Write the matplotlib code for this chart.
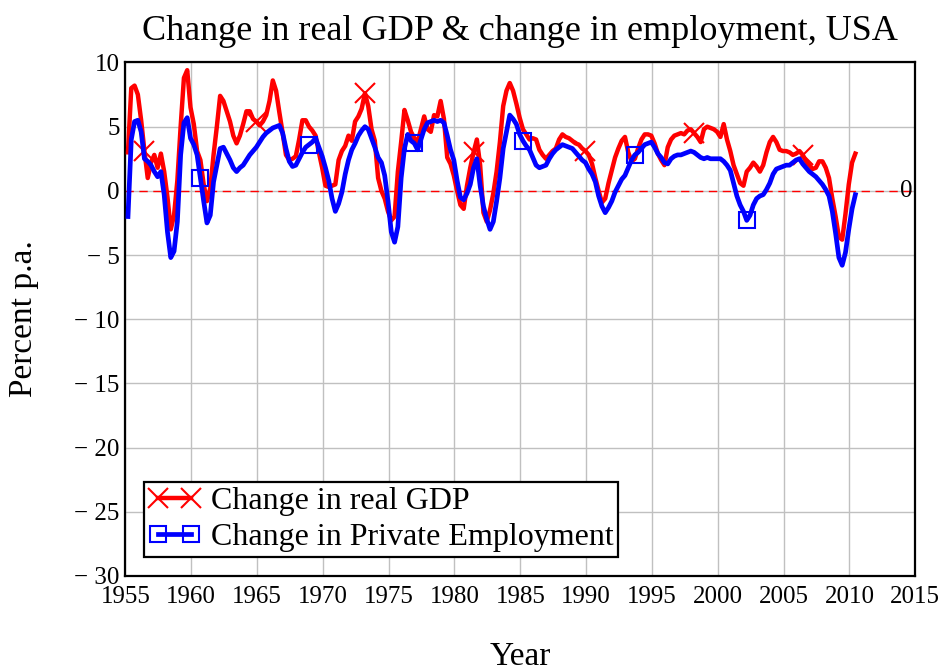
import numpy as np
import matplotlib.pyplot as plt

# quarterly readings, first quarter ~1955.2
start_year = 1955.2
gdp = [3.0, 8.0, 8.2,
       7.5, 5.5, 3.1, 1.0,
       2.2, 2.8, 1.8, 2.9,
       1.5, -0.5, -3.0, -1.9,
       0.8, 5.0, 8.8, 9.4,
       6.5, 5.2, 3.1, 2.4,
       0.5, -0.8, 0.2, 2.8,
       5.0, 7.4, 7.0, 6.2,
       5.4, 4.3, 3.7, 4.3,
       5.2, 6.2, 6.2, 5.6,
       5.4, 5.1, 5.4, 5.9,
       7.0, 8.6, 7.8, 6.1,
       4.5, 2.8, 2.4, 2.5,
       2.7, 4.0, 5.5, 5.5,
       5.0, 4.7, 4.3, 3.0,
       1.8, 0.4, 0.3, 0.4,
       0.5, 2.4, 3.1, 3.5,
       4.3, 3.9, 5.4, 5.8,
       6.4, 7.6, 6.6, 4.8,
       3.9, 1.0, 0.0, -0.6,
       -1.6, -2.3, -2.0, 1.5,
       3.8, 6.3, 5.5, 4.6,
       4.1, 3.8, 4.8, 5.8,
       4.8, 4.6, 5.9, 5.8,
       7.0, 5.6, 2.6, 2.1,
       1.2, 0.0, -1.1, -1.4,
       0.4, 1.8, 3.0, 4.0,
       2.0, -1.7, -2.4, -1.5,
       -0.2, 1.5, 3.8, 6.6,
       7.8, 8.4, 7.8, 6.8,
       5.7, 4.8, 4.4, 4.0,
       4.1, 4.0, 3.2, 2.8,
       2.5, 2.8, 3.1, 3.3,
       4.0, 4.4, 4.2, 4.1,
       3.9, 3.7, 3.6, 3.3,
       3.1, 2.8, 2.1, 1.0,
       0.0, -0.9, -0.6, 0.6,
       1.6, 2.6, 3.3, 3.9,
       4.2, 3.0, 2.3, 2.5,
       3.3, 4.0, 4.4, 4.4,
       4.3, 3.7, 2.9, 2.4,
       2.0, 3.4, 4.0, 4.3,
       4.4, 4.5, 4.4, 4.7,
       4.8, 4.5, 4.2, 3.8,
       4.8, 5.0, 4.9, 4.8,
       4.6, 4.2, 5.2, 4.0,
       3.1, 2.0, 1.3, 0.6,
       0.4, 1.5, 1.8, 2.2,
       1.9, 1.5, 2.0, 3.0,
       3.8, 4.2, 3.8, 3.2,
       3.1, 3.1, 3.0, 2.8,
       2.9, 3.1, 2.8, 2.3,
       2.0, 1.7, 1.8, 2.3,
       2.3, 1.8, 1.0, -0.6,
       -2.0, -3.6, -3.8, -1.8,
       0.5, 2.2, 2.9]

employment = [-2.0, 4.0, 5.4,
              5.5, 4.6, 2.5, 2.3,
              2.0, 1.5, 1.1, 1.5,
              -0.3, -3.2, -5.2, -4.7,
              -2.4, 2.8, 5.3, 5.7,
              4.1, 3.6, 2.8, 1.0,
              -0.8, -2.5, -1.9, 0.7,
              2.0, 3.3, 3.4, 2.9,
              2.4, 1.8, 1.5, 1.8,
              2.0, 2.4, 2.8, 3.1,
              3.4, 3.8, 4.2, 4.5,
              4.7, 4.9, 5.0, 5.1,
              4.5, 3.3, 2.3, 1.9,
              2.0, 2.5, 3.0, 3.4,
              3.6, 3.8, 4.1, 3.4,
              2.7, 1.8, 0.8, -0.6,
              -1.6, -1.0, -0.1, 1.3,
              2.4, 3.2, 3.7, 4.3,
              4.7, 5.0, 4.8, 4.1,
              3.4, 2.6, 2.2, 1.2,
              -0.8, -3.2, -4.0, -2.8,
              1.0, 3.3, 4.4, 3.9,
              3.7, 3.2, 4.0, 4.8,
              5.3, 5.4, 5.5, 5.4,
              5.5, 5.3, 4.3, 3.2,
              2.4, 0.8, -0.5, -0.7,
              -0.2, 0.5, 1.8, 2.5,
              0.4, -1.2, -2.2, -3.0,
              -2.4, -0.8, 1.0, 3.3,
              4.6, 5.9, 5.6, 5.2,
              4.4, 3.9, 3.5, 3.2,
              2.6, 2.0, 1.8, 1.9,
              2.0, 2.5, 2.9, 3.2,
              3.4, 3.6, 3.5, 3.4,
              3.3, 3.0, 2.7, 2.4,
              2.2, 1.7, 1.3, 0.7,
              -0.4, -1.2, -1.7, -1.3,
              -0.8, -0.1, 0.4, 0.9,
              1.2, 1.8, 2.4, 2.8,
              3.0, 3.3, 3.6, 3.7,
              3.8, 3.4, 2.9, 2.6,
              2.2, 2.1, 2.5, 2.7,
              2.8, 2.8, 2.9, 3.0,
              3.1, 3.0, 2.8, 2.6,
              2.5, 2.6, 2.5, 2.5,
              2.5, 2.5, 2.3, 2.0,
              1.6, 0.6, -0.4, -1.1,
              -1.6, -2.3, -1.9, -1.1,
              -0.6, -0.4, -0.3, 0.1,
              0.6, 1.3, 1.7, 1.8,
              1.9, 2.0, 2.0, 2.2,
              2.4, 2.5, 2.1, 1.8,
              1.5, 1.3, 1.1, 0.8,
              0.5, 0.1, -0.4, -1.6,
              -3.3, -5.2, -5.8, -4.8,
              -3.0, -1.4, -0.3]

years = start_year + 0.25 * np.arange(len(gdp))

# where the sparse markers sit (years)
gdp_mark_years = [1956.5, 1965.0, 1973.25, 1981.5, 1990.0, 1998.25, 2006.5]
emp_mark_years = [1960.75, 1969.0, 1977.0, 1985.25, 1993.75, 2002.25]

xticks = np.arange(1955, 2020, 5)
yticks = np.arange(-30, 15, 5)
ylabels = [str(v) if v >= 0 else '\u2212 ' + str(-v) for v in yticks]

plt.rcParams['font.family'] = ['Liberation Serif', 'DejaVu Serif']

fig = plt.figure(figsize=(9.46, 6.72), dpi=100)
ax = fig.add_axes([0.1325, 0.143, 0.835, 0.764])

gdp_idx = [int(round((y - start_year) / 0.25)) for y in gdp_mark_years]
emp_idx = [int(round((y - start_year) / 0.25)) for y in emp_mark_years]

ax.plot(years, gdp, color='red', lw=3.2, marker='x', ms=14, mew=1.5,
        markevery=gdp_idx, label='Change in real GDP', zorder=3)
ax.plot(years, employment, color='blue', lw=3.4, marker='s', ms=12, mew=1.5,
        mfc='none', markevery=emp_idx, label='Change in Private Employment', zorder=4)

ax.axhline(0, color='red', lw=1, dashes=(6, 4), zorder=2)
ax.text(2014.3, 0, '0', fontsize=18, ha='center', va='center')

ax.set_xlim(1955, 2015)
ax.set_ylim(-30, 10)
ax.set_xticks(xticks)
ax.set_yticks(yticks)
ax.set_yticklabels(ylabels)
ax.tick_params(length=0, labelsize=18)
ax.tick_params(axis='x', pad=7)
ax.tick_params(axis='y', pad=4)
ax.grid(True, color='#c0c0c0', lw=1)
ax.set_axisbelow(True)
for s in ax.spines.values():
    s.set_linewidth(1.6)
    s.set_color('black')

ax.set_title('Change in real GDP & change in employment, USA', fontsize=26, pad=16)
fig.text(520 / 946, 1 - 657 / 672, 'Year', fontsize=24, ha='center', va='center')
fig.text(24 / 946, 1 - 319 / 672, 'Percent p.a.', fontsize=24, ha='center',
         va='center', rotation=90)

leg = ax.legend(loc='lower left', bbox_to_anchor=(0.023, 0.037), borderaxespad=0,
                fontsize=23, numpoints=2, handlelength=1.65, borderpad=0.15,
                labelspacing=0.2, handletextpad=0.3, fancybox=False,
                framealpha=1, edgecolor='black')
leg.get_frame().set_linewidth(1.6)

plt.savefig('out.png', dpi=100)
